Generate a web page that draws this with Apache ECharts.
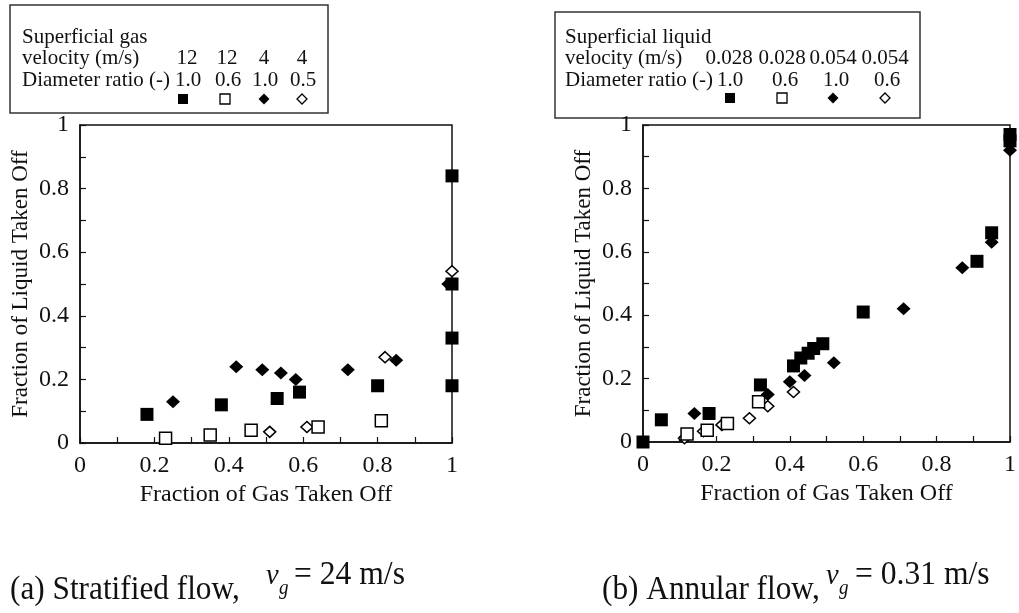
<!DOCTYPE html>
<html>
<head>
<meta charset="utf-8">
<script src="https://cdn.jsdelivr.net/npm/echarts@6/dist/echarts.min.js"></script>
<style>
  html, body { margin: 0; padding: 0; background: #fff; }
  #chart { width: 1019px; height: 613px; }
</style>
</head>
<body>
<div id="chart"></div>
<script>
// ---- (a) Stratified flow: [fraction of gas taken off, fraction of liquid taken off]
const stratGas12Ratio10 = [[0.18, 0.09], [0.38, 0.12], [0.53, 0.14], [0.59, 0.16], [0.80, 0.18],
                           [1.00, 0.84], [1.00, 0.50], [1.00, 0.33], [1.00, 0.18]];
const stratGas12Ratio06 = [[0.23, 0.015], [0.35, 0.025], [0.46, 0.04], [0.64, 0.05], [0.81, 0.07]];
const stratGas4Ratio10  = [[0.25, 0.13], [0.42, 0.24], [0.49, 0.23], [0.54, 0.22], [0.58, 0.20],
                           [0.72, 0.23], [0.85, 0.26], [0.99, 0.50]];
const stratGas4Ratio05  = [[0.51, 0.035], [0.61, 0.05], [0.82, 0.27], [1.00, 0.54]];

// ---- (b) Annular flow
const annLiq028Ratio10 = [[0.00, 0.00], [0.05, 0.07], [0.18, 0.09], [0.32, 0.18], [0.41, 0.24],
                          [0.43, 0.265], [0.45, 0.28], [0.465, 0.295], [0.49, 0.31], [0.60, 0.41],
                          [0.91, 0.57], [0.95, 0.66], [1.00, 0.97], [1.00, 0.95]];
const annLiq028Ratio06 = [[0.12, 0.025], [0.175, 0.037], [0.23, 0.058], [0.315, 0.127]];
const annLiq054Ratio10 = [[0.14, 0.09], [0.34, 0.15], [0.40, 0.19], [0.44, 0.21], [0.52, 0.25],
                          [0.71, 0.42], [0.87, 0.55], [0.95, 0.63], [1.00, 0.92]];
const annLiq054Ratio06 = [[0.113, 0.012], [0.165, 0.034], [0.215, 0.054], [0.29, 0.075],
                          [0.34, 0.113], [0.41, 0.158]];

// ---- legend tables
const stratVelocities = ['12', '12', '4', '4'];
const stratRatios     = ['1.0', '0.6', '1.0', '0.5'];
const annVelocities   = ['0.028', '0.028', '0.054', '0.054'];
const annRatios       = ['1.0', '0.6', '1.0', '0.6'];
const markerKinds     = ['filledSquare', 'openSquare', 'filledDiamond', 'openDiamond'];

const xAxisTitle = 'Fraction of Gas Taken Off';
const yAxisTitle = 'Fraction of Liquid Taken Off';

const SERIF = '"Liberation Serif", "DejaVu Serif", serif';
const INK = '#111';
const MARK = '#000';

const chart = echarts.init(document.getElementById('chart'), null, { renderer: 'canvas' });

function valueAxis(gridIndex, isY) {
  return {
    type: 'value', gridIndex: gridIndex, min: 0, max: 1, interval: 0.2,
    name: isY ? yAxisTitle : xAxisTitle,
    nameLocation: 'middle',
    nameGap: isY ? 48 : 38,
    nameTextStyle: { fontFamily: SERIF, fontSize: isY ? 23 : 24, color: INK },
    axisLine: { show: true, lineStyle: { color: INK, width: 1.5 } },
    axisTick: { show: true, inside: true, length: 6, lineStyle: { color: INK, width: 1.2 } },
    minorTick: { show: true, splitNumber: 2, length: 6, lineStyle: { color: INK, width: 1.2 } },
    axisLabel: { fontFamily: SERIF, fontSize: 24, color: INK, margin: 11 },
    splitLine: { show: false }
  };
}

const markerStyles = {
  filledSquare:  { symbol: 'rect', symbolSize: 13, itemStyle: { color: MARK, opacity: 1 } },
  openSquare:    { symbol: 'rect', symbolSize: 12, itemStyle: { color: '#fff', borderColor: MARK, borderWidth: 1.5, opacity: 1 } },
  filledDiamond: { symbol: 'diamond', symbolSize: [14, 13], itemStyle: { color: MARK, opacity: 1 } },
  openDiamond:   { symbol: 'diamond', symbolSize: [12, 11], itemStyle: { color: '#fff', borderColor: MARK, borderWidth: 1.5, opacity: 1 } }
};

function scatter(gridIndex, kind, data, z) {
  const s = markerStyles[kind];
  return {
    type: 'scatter', xAxisIndex: gridIndex, yAxisIndex: gridIndex,
    data: data, symbol: s.symbol, symbolSize: s.symbolSize,
    itemStyle: s.itemStyle, clip: false, z: z,
    emphasis: { disabled: true }, silent: true
  };
}

// legend glyph drawn as a plain shape
function legendGlyph(kind, cx, cy) {
  const half = 5;
  if (kind === 'filledSquare' || kind === 'openSquare') {
    return {
      type: 'rect', shape: { x: cx - half, y: cy - half, width: half * 2, height: half * 2 },
      style: kind === 'filledSquare' ? { fill: MARK } : { fill: '#fff', stroke: MARK, lineWidth: 1.3 }
    };
  }
  const h = kind === 'filledDiamond' ? 5.5 : 5;
  return {
    type: 'polygon',
    shape: { points: [[cx, cy - h], [cx + h, cy], [cx, cy + h], [cx - h, cy]] },
    style: kind === 'filledDiamond' ? { fill: MARK } : { fill: '#fff', stroke: MARK, lineWidth: 1.3 }
  };
}

function legendBox(box, heading, velocities, ratios, velCols, ratioCols, glyphCols) {
  const els = [];
  els.push({ type: 'rect', shape: { x: box.x, y: box.y, width: box.w, height: box.h },
             style: { fill: '#fff', stroke: '#333', lineWidth: 1.5 } });
  const txt = (t, x, y, align) => ({
    type: 'text',
    style: { text: t, x: x, y: y, align: align || 'left', verticalAlign: 'middle',
             font: '21px ' + SERIF, fill: INK }
  });
  els.push(txt(heading, box.tx, box.rows[0]));
  els.push(txt('velocity (m/s)', box.tx, box.rows[1]));
  els.push(txt('Diameter ratio (-)', box.tx, box.rows[2]));
  velocities.forEach((v, i) => els.push(txt(v, velCols[i], box.rows[1], 'center')));
  ratios.forEach((v, i) => els.push(txt(v, ratioCols[i], box.rows[2], 'center')));
  markerKinds.forEach((k, i) => els.push(legendGlyph(k, glyphCols[i], box.rows[3])));
  return { type: 'group', children: els };
}

// panel caption: "(x) ... flow,  v_g = value"
function caption(label, value, x, vx, eqx) {
  const y = 590;
  const piece = (text, px, py, font, sx) => ({
    type: 'text', x: px, y: py, scaleX: sx,
    style: { text: text, x: 0, y: 0, verticalAlign: 'middle', font: font, fill: INK }
  });
  return {
    type: 'group',
    children: [
      piece(label, x, y, '34px ' + SERIF, 0.92),
      piece('v', vx, y - 14, 'italic 30px ' + SERIF, 0.95),
      piece('g', vx + 13, y - 1, 'italic 20px ' + SERIF, 0.95),
      piece('= ' + value, eqx, y - 15, '34px ' + SERIF, 0.93)
    ]
  };
}

const option = {
  backgroundColor: '#fff',
  animation: false,
  grid: [
    { left: 80, top: 125, width: 372, height: 318, show: true, borderColor: INK, borderWidth: 1.5, containLabel: false },
    { left: 643, top: 125, width: 371, height: 317, show: true, borderColor: INK, borderWidth: 1.5, containLabel: false }
  ],
  xAxis: [valueAxis(0, false), valueAxis(1, false)],
  yAxis: [valueAxis(0, true), valueAxis(1, true)],
  series: [
    scatter(0, 'openDiamond', stratGas4Ratio05, 2),
    scatter(0, 'filledDiamond', stratGas4Ratio10, 3),
    scatter(0, 'openSquare', stratGas12Ratio06, 4),
    scatter(0, 'filledSquare', stratGas12Ratio10, 5),
    scatter(1, 'openDiamond', annLiq054Ratio06, 2),
    scatter(1, 'openSquare', annLiq028Ratio06, 3),
    scatter(1, 'filledDiamond', annLiq054Ratio10, 4),
    scatter(1, 'filledSquare', annLiq028Ratio10, 5)
  ],
  graphic: [
    legendBox({ x: 10, y: 5, w: 318, h: 108, tx: 22, rows: [37, 58, 80, 99] },
              'Superficial gas', stratVelocities, stratRatios,
              [187, 227, 264, 302], [188, 228, 265, 303], [183, 225, 264, 302]),
    legendBox({ x: 555, y: 12, w: 365, h: 106, tx: 565, rows: [37, 58, 80, 98] },
              'Superficial liquid', annVelocities, annRatios,
              [729, 782, 833, 885], [730, 785, 836, 887], [730, 782, 833, 885]),
    caption('(a) Stratified flow,', '24 m/s', 10, 266, 294),
    caption('(b) Annular flow,', '0.31 m/s', 602, 826, 855)
  ]
};

chart.setOption(option);
</script>
</body>
</html>
